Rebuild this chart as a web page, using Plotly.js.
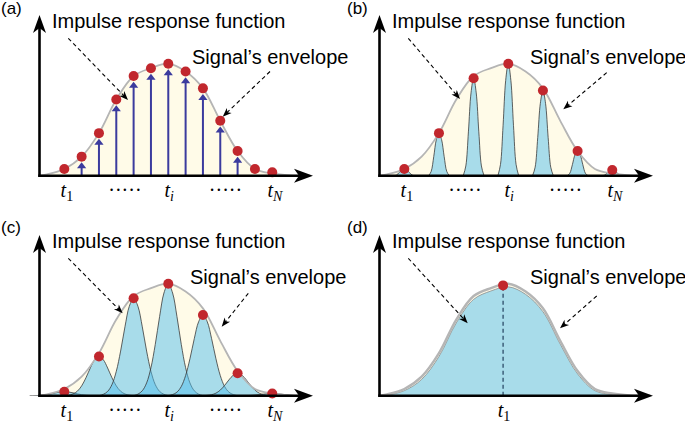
<!DOCTYPE html>
<html><head><meta charset="utf-8">
<script src="https://cdn.plot.ly/plotly-3.0.1.min.js"></script>
<style>html,body{margin:0;padding:0;background:#fff}#chart{width:685px;height:423px}</style>
</head><body><div id="chart"></div>
<script>
// ---------------- data ----------------
// signal envelope (time index t, relative amplitude)
const envT = [-0.5, 0, 1, 2, 3, 4, 5, 6, 7, 8, 9, 10, 11, 12, 13, 14, 15.2];
const envV = [0, 0.012, 0.06, 0.17, 0.38, 0.68, 0.89, 0.96, 1.0, 0.93, 0.78, 0.49, 0.22, 0.06, 0.02, 0.003, 0];
// (a) impulses / samples
const aT = [1, 2, 3, 4, 5, 6, 7, 8, 9, 10, 11, 12, 13];
const aV = [0.06, 0.17, 0.38, 0.68, 0.89, 0.96, 1.0, 0.93, 0.78, 0.49, 0.22, 0.06, 0.03];
// (b) narrow impulse responses
const bT = [1, 3, 5, 7, 9, 11, 13];
const bV = [0.06, 0.38, 0.87, 1.0, 0.76, 0.22, 0.05];
// (c) wide impulse responses
const cT = [1, 3, 5, 7, 9, 11, 13];
const cV = [0.036, 0.35, 0.87, 1.0, 0.72, 0.2, 0.02];
// (d) single impulse response filling the envelope
const dT = [6.7];
const dV = [0.985];
const dBlue = [0, 0.005, 0.045, 0.145, 0.35, 0.65, 0.86, 0.935, 0.972, 0.905, 0.75, 0.46, 0.195, 0.045, 0.01, 0, 0];
// pulse profiles (offset in t, relative height)
const pbOff = [-0.6, -0.45, -0.3, -0.15, 0, 0.15, 0.3, 0.45, 0.6];
const pbRel = [0, 0.1, 0.45, 0.85, 1, 0.85, 0.45, 0.1, 0];
const pcOff = [-2, -1.75, -1.5, -1.25, -1, -0.75, -0.5, -0.25, 0, 0.25, 0.5, 0.75, 1, 1.25, 1.5, 1.75, 2];
const pcRel = [0, 0.014, 0.044, 0.114, 0.25, 0.458, 0.707, 0.917, 1, 0.917, 0.707, 0.458, 0.25, 0.114, 0.044, 0.014, 0];
// tick labels
const tickValsABC = [1.15, 4.5, 7.05, 10.3, 13.15];
const tickTextABC = ['<i>t</i><sub>1</sub>', '·····', '<i>t</i><sub><i>i</i></sub>', '·····', '<i>t</i><sub><i>N</i></sub>'];
const tickValsD = [6.75];
const tickTextD = ['<i>t</i><sub>1</sub>'];
const panelLetters = ['(a)', '(b)', '(c)', '(d)'];
const labelImpulse = 'Impulse response function';
const labelEnvelope = 'Signal’s envelope';

// ---------------- layout helpers ----------------
const W = 685, H = 423;
const P = px => px / W, Q = py => 1 - py / H;
const BASE = 175.7, UNIT = 112, X0 = 64.3, DX = 17.33;
const px2t = p => 1 + (p - X0) / DX;
const panels = [
  {ox: 0, oy: 0, s: '', lx: -0.5, lb: 15.8},
  {ox: 340, oy: 0, s: '2', lx: 6.5, lb: 15.8},
  {ox: 0, oy: 220, s: '3', lx: -0.5, lb: 14},
  {ox: 340, oy: 220, s: '4', lx: 6.5, lb: 14.5}
];
const labelArrows = [
  [[68.3, 38.3, 128, 100], [270, 71.5, 222.7, 116.7]],
  [[68.3, 38.3, 120, 99], [266.7, 72.7, 223.3, 109.3]],
  [[68.3, 38.3, 122.7, 93.3], [248.3, 73.3, 221.7, 106.7]],
  [[68.3, 38.3, 127.7, 103.3], [256.7, 76, 220, 108.3]]
];

const CREAM = '#fffbe8', ENV = '#b5b5b5', RED = '#c1272d', BLUE_ARW = '#3b3b9e';
const traces = [], shapes = [], annotations = [];
const layout = {
  width: W, height: H, margin: {l: 0, r: 0, t: 0, b: 0},
  paper_bgcolor: '#fff', plot_bgcolor: 'rgba(0,0,0,0)', showlegend: false,
  font: {family: 'Liberation Sans, Arial, sans-serif', color: '#000'}
};

function headPath(ux, uy, L, Wd, N) {
  const qx = -uy, qy = ux;
  const pts = [[0, 0], [-L * ux + Wd / 2 * qx, -L * uy + Wd / 2 * qy], [-N * ux, -N * uy], [-L * ux - Wd / 2 * qx, -L * uy - Wd / 2 * qy]];
  return 'M' + pts.map(p => p[0].toFixed(2) + ',' + (-p[1]).toFixed(2)).join('L') + 'Z';
}
function arrow(x1, y1, x2, y2, opts) {
  const len = Math.hypot(x2 - x1, y2 - y1), ux = (x2 - x1) / len, uy = (y2 - y1) / len;
  const back = opts.lineBack;
  shapes.push({type: 'line', xref: 'paper', yref: 'paper', x0: P(x1), y0: Q(y1), x1: P(x2 - ux * back), y1: Q(y2 - uy * back),
    line: {color: opts.color, width: opts.width, dash: opts.dash || 'solid'}, layer: 'above'});
  shapes.push({type: 'path', xref: 'paper', yref: 'paper', xsizemode: 'pixel', ysizemode: 'pixel', xanchor: P(x2), yanchor: Q(y2),
    path: headPath(ux, uy, opts.L, opts.W, opts.N), fillcolor: opts.color, line: {width: 0}, layer: 'above'});
}

panels.forEach((pn, k) => {
  const s = pn.s, xa = 'x' + s, ya = 'y' + s;
  const isD = k === 3;
  layout['xaxis' + s] = {
    domain: [P(pn.ox + 20), P(pn.ox + 330)], range: [px2t(20), px2t(330)], anchor: ya,
    showgrid: false, zeroline: false, showline: false, ticks: '', fixedrange: true,
    tickmode: 'array', tickvals: isD ? tickValsD : tickValsABC, ticktext: isD ? tickTextD : tickTextABC,
    tickfont: {family: 'Liberation Serif, Times New Roman, serif', size: 20, color: '#000'}, ticklabelstandoff: 0
  };
  layout['yaxis' + s] = {domain: [Q(pn.oy + BASE), Q(pn.oy + 5)], range: [0, (BASE - 5) / UNIT], anchor: xa, visible: false, fixedrange: true};

  // envelope fill
  traces.push({x: envT, y: envV, xaxis: xa, yaxis: ya, mode: 'lines', line: {width: 0, shape: 'spline'}, fill: 'tozeroy', fillcolor: CREAM, hoverinfo: 'skip'});

  if (k === 0) {
    // impulse stems with arrowheads just below each sample dot
    traces.push({x: aT.flatMap(t => [t, t, null]), y: aV.flatMap(v => [0, Math.max(v - 0.07, 0), null]), xaxis: xa, yaxis: ya,
      mode: 'lines', line: {color: BLUE_ARW, width: 2}, hoverinfo: 'skip'});
    traces.push({x: aT, y: aV.map(v => v - 0.086), xaxis: xa, yaxis: ya, mode: 'markers',
      marker: {symbol: 'triangle-up', size: 8, color: BLUE_ARW}, hoverinfo: 'skip'});
  }
  if (k === 1) {
    bT.forEach((t, i) => traces.push({x: pbOff.map(o => t + o), y: pbRel.map(r => r * bV[i]), xaxis: xa, yaxis: ya, mode: 'lines',
      line: {color: '#3a3a3a', width: 0.8, shape: 'spline'}, fill: 'tozeroy', fillcolor: '#a8dcea', hoverinfo: 'skip'}));
  }
  if (k === 2) {
    cT.forEach((t, i) => traces.push({x: pcOff.map(o => t + o), y: pcRel.map(r => r * cV[i]), xaxis: xa, yaxis: ya, mode: 'lines',
      line: {color: '#3a3a3a', width: 0.8, shape: 'spline'}, fill: 'tozeroy', fillcolor: 'rgba(82,189,236,0.5)', hoverinfo: 'skip'}));
  }
  if (isD) {
    traces.push({x: envT, y: dBlue, xaxis: xa, yaxis: ya, mode: 'lines', line: {color: '#8c8c8c', width: 0.8, shape: 'spline'},
      fill: 'tozeroy', fillcolor: '#a8dcea', hoverinfo: 'skip'});
  }
  // envelope line
  traces.push({x: envT, y: envV, xaxis: xa, yaxis: ya, mode: 'lines', line: {color: ENV, width: isD ? 2.4 : 1.8, shape: 'spline'}, hoverinfo: 'skip', cliponaxis: false});

  if (isD) {
    traces.push({x: [dT[0], dT[0]], y: [0, dV[0]], xaxis: xa, yaxis: ya, mode: 'lines', line: {color: '#23405e', width: 1.2, dash: '4px,3px'}, hoverinfo: 'skip'});
  }
  // sample dots
  const T = [aT, bT, cT, dT][k], V = [aV, bV, cV, dV][k];
  traces.push({x: T, y: V, xaxis: xa, yaxis: ya, mode: 'markers', marker: {size: 10, color: RED}, cliponaxis: false, hoverinfo: 'skip'});

  // axes with arrowheads
  const yx = pn.ox + 39.5, by = pn.oy + BASE;
  arrow(yx, by + 1.2, yx, pn.oy + 15, {color: '#000', width: 2.6, lineBack: 10, L: 18, W: 13, N: 13});
  arrow(yx - 1.2, by, pn.ox + 313, by, {color: '#000', width: 2.6, lineBack: 10, L: 19, W: 14, N: 14});

  // labelled dashed arrows
  labelArrows[k].forEach(a => arrow(pn.ox + a[0], pn.oy + a[1], pn.ox + a[2], pn.oy + a[3],
    {color: '#000', width: 1.1, dash: '4px,3px', lineBack: 5, L: 9, W: 7, N: 6.5}));

  // texts
  const fs = 20, fl = 17;
  annotations.push({xref: 'paper', yref: 'paper', x: P(pn.ox + pn.lx), y: Q(pn.oy + pn.lb + 0.212 * fl), xanchor: 'left', yanchor: 'bottom', borderpad: 0,
    text: panelLetters[k], showarrow: false, font: {size: fl, family: 'Liberation Sans, Arial, sans-serif', color: '#000'}});
  annotations.push({xref: 'paper', yref: 'paper', x: P(pn.ox + 49.5), y: Q(pn.oy + 28.3 + 0.212 * fs + 1), xanchor: 'left', yanchor: 'bottom',
    text: labelImpulse, showarrow: false, font: {size: fs, family: 'Liberation Sans, Arial, sans-serif', color: '#000'}});
  annotations.push({xref: 'paper', yref: 'paper', x: P(pn.ox + (k === 0 ? 189.5 : 188)), y: Q(pn.oy + 65 + 0.212 * fs + 1), xanchor: 'left', yanchor: 'bottom',
    text: labelEnvelope, showarrow: false, font: {size: fs, family: 'Liberation Sans, Arial, sans-serif', color: '#000'}});
});

layout.shapes = shapes;
layout.annotations = annotations;
Plotly.newPlot('chart', traces, layout, {staticPlot: true, displayModeBar: false});
</script></body></html>
